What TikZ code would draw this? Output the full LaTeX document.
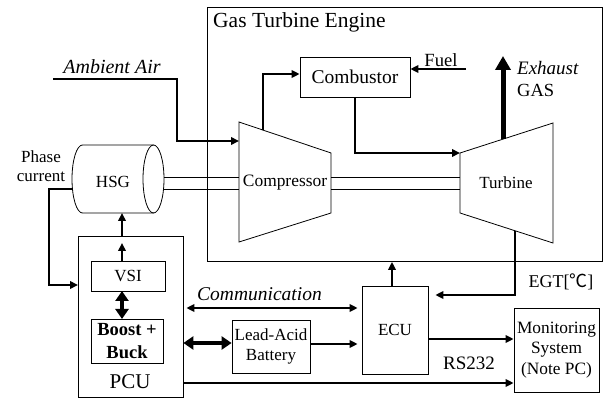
\documentclass[tikz,border=0pt]{standalone}
\usepackage{fontspec}
\setmainfont{Liberation Serif}
\newfontfamily\cjkfont{Noto Sans CJK KR}
\usetikzlibrary{arrows.meta}
\begin{document}
\begin{tikzpicture}[x=1pt,y=-1pt,
  box/.style={draw, line width=0.8pt, inner sep=0pt},
  txt/.style={inner sep=0pt, align=center, font=\fontsize{17}{20}\selectfont},
  thin/.style={line width=0.8pt},
  med/.style={line width=2.2pt, -{Triangle[length=8pt,width=7.5pt]}},
  medd/.style={line width=2pt, {Triangle[length=8pt,width=7.5pt]}-{Triangle[length=8pt,width=7.5pt]}},
  fat/.style={line width=5pt, -{Triangle[length=14pt,width=15pt]}},
  fatd/.style={line width=4pt, {Triangle[length=10pt,width=13pt]}-{Triangle[length=10pt,width=13pt]}}
]
\useasboundingbox (0,0) rectangle (606,398);

% Gas turbine engine frame
\node[box, minimum width=395pt, minimum height=254pt] (eng) at (404.5,134.5) {};
\node[txt, anchor=west, font=\fontsize{21.5}{24}\selectfont] (title) at (213,22) {Gas Turbine Engine};

% Combustor
\node[box, minimum width=110pt, minimum height=40pt, font=\fontsize{19.5}{22}\selectfont] (comb) at (355,77) {Combustor};

% Compressor trapezoid
\coordinate (c1) at (239,122);
\coordinate (c2) at (331,153);
\coordinate (c3) at (331,213);
\coordinate (c4) at (239,242);
\draw[thin] (c1) -- (c2) -- (c3) -- (c4) -- cycle;
\node[txt, font=\fontsize{17.4}{20}\selectfont] (comp) at (285,183) {Compressor};

% Turbine trapezoid
\coordinate (t1) at (460,153);
\coordinate (t2) at (553,123);
\coordinate (t3) at (553,243);
\coordinate (t4) at (460,213);
\draw[thin] (t1) -- (t2) -- (t3) -- (t4) -- cycle;
\node[txt] (turb) at (506,183) {Turbine};

% HSG cylinder
\draw[thin] (153.5,145) -- (82.5,145) arc[start angle=270, end angle=90, x radius=10.5, y radius=34] -- (153.5,213);
\draw[thin] (153.5,179) ellipse[x radius=10.5, y radius=34];
\node[txt] (hsg) at (113,182) {HSG};
\coordinate (hsgL) at (72,189);
\coordinate (hsgB) at (122,213);

% shafts
\coordinate (s1a) at (164,177); \coordinate (s1b) at (239,177);
\coordinate (s2a) at (164,189); \coordinate (s2b) at (239,189);
\coordinate (s3a) at (331,177); \coordinate (s3b) at (460,177);
\coordinate (s4a) at (331,189); \coordinate (s4b) at (460,189);
\draw[thin] (s1a) -- (s1b) (s2a) -- (s2b) (s3a) -- (s3b) (s4a) -- (s4b);

% Ambient air
\node[txt, font=\fontsize{20}{22}\selectfont\itshape] (amb) at (112,67) {Ambient Air};
\coordinate (ambS) at (53,79);
\coordinate (ambE) at (239,141);
\draw[med] (ambS) -- (177,79) -- (177,141) -- (ambE);

% compressor -> combustor
\coordinate (cTop) at (263,130);
\draw[med] (cTop) -- (263,74) -- (comb.west |- 0,74);

% combustor -> turbine
\draw[med] (comb.south) -- (355,153) -- (t1);

% Fuel
\node[txt, font=\fontsize{18.6}{21}\selectfont] (fuel) at (441,60) {Fuel};
\coordinate (fuelS) at (466,69);
\draw[med] (fuelS) -- (comb.east |- fuelS);

% Exhaust
\coordinate (exS) at (503,139);
\coordinate (exE) at (503,56);
\draw[fat] (exS) -- (exE);
\node[txt, anchor=west, font=\fontsize{19}{22}\selectfont\itshape] (exh) at (517,68) {Exhaust};
\node[txt, anchor=west, font=\fontsize{18.5}{22}\selectfont] (gas) at (517,90) {GAS};

% PCU
\node[box, minimum width=105pt, minimum height=161pt] (pcu) at (130.5,316.5) {};
\node[txt, font=\fontsize{21}{24}\selectfont] (pcul) at (130,382) {PCU};
\node[box, minimum width=74pt, minimum height=30pt, font=\fontsize{17}{20}\selectfont] (vsi) at (128,276) {VSI};
\node[box, minimum width=72pt, minimum height=44pt, align=center, font=\fontsize{18.5}{23}\selectfont\bfseries] (bb) at (127,341) {Boost +\\Buck};

% Phase current
\node[txt, align=center, font=\fontsize{17}{19.5}\selectfont] (phase) at (41,166) {Phase\\current};
\coordinate (pcuIn) at (78,285);
\draw[med] (hsgL) -- (49,189) -- (49,285) -- (pcuIn);

% VSI -> HSG
\coordinate (vsiT) at (122,261);
\coordinate (pcuT) at (122,236);
\draw[med] (vsiT) -- (122,243);
\draw[med] (pcuT) -- (hsgB);

% VSI <-> Boost/Buck
\draw[fatd] (122,291) -- (122,319);

% Battery
\node[box, minimum width=78pt, minimum height=53pt, align=center, font=\fontsize{17}{20}\selectfont] (bat) at (271,346.5) {Lead-Acid\\Battery};
\draw[fatd] (pcu.east |- 0,343) -- (bat.west |- 0,343);

% ECU
\node[box, minimum width=66pt, minimum height=88pt, font=\fontsize{17}{20}\selectfont] (ecu) at (395,330) {ECU};

% Communication
\node[txt, anchor=west, font=\fontsize{19.5}{22}\selectfont\itshape] (comm) at (197,294) {Communication};
\draw[medd, shorten <=3pt, shorten >=4pt] (pcu.east |- 0,308) -- (ecu.west |- 0,308);

% Battery -> ECU
\draw[med, shorten >=4pt] (bat.east |- 0,344) -- (ecu.west |- 0,344);

% ECU -> engine
\draw[med] (ecu.north -| 392,0) -- (eng.south -| 392,0);

% EGT
\coordinate (egtS) at (515,231);
\draw[med, shorten >=7pt] (egtS) -- (515,295) -- (ecu.east |- 0,295);
\node[txt, font=\fontsize{18}{21}\selectfont] (egt) at (561,282) {EGT[{\cjkfont ℃}]};

% Monitoring
\node[box, minimum width=85pt, minimum height=84pt, align=center, font=\fontsize{17.3}{20.5}\selectfont] (mon) at (556.5,350) {Monitoring\\System\\(Note PC)};
\draw[med] (ecu.east |- 0,339) -- (mon.west |- 0,339);
\node[txt, font=\fontsize{19}{22}\selectfont] (rs) at (469,363) {RS232};

% PCU -> Monitoring
\draw[med] (pcu.east |- 0,383) -- (mon.west |- 0,383);
\end{tikzpicture}
\end{document}
